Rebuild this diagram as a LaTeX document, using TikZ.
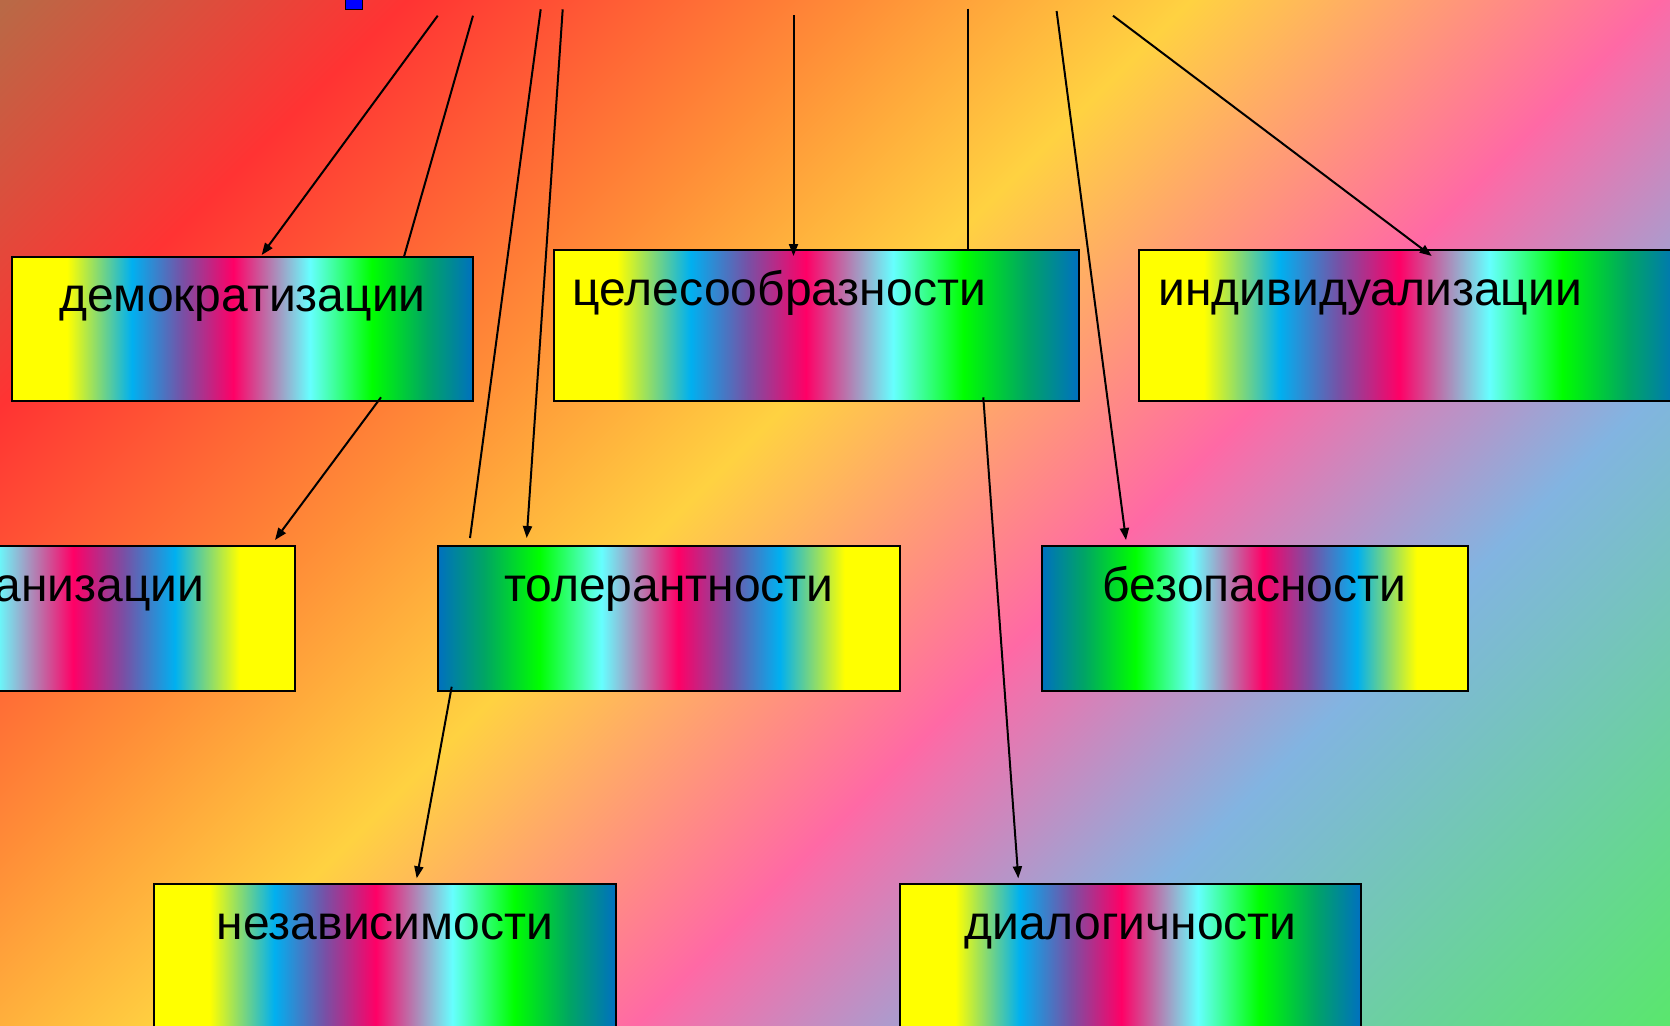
\documentclass[tikz,border=0pt]{standalone}
\usepackage{fontspec}
\setmainfont{Liberation Sans}
\usetikzlibrary{arrows.meta,calc}

% box colours
\definecolor{ryellow}{RGB}{255,255,0}
\definecolor{rcyan}{RGB}{0,176,240}
\definecolor{rpurple}{RGB}{120,80,165}
\definecolor{rmagenta}{RGB}{255,0,102}
\definecolor{raqua}{RGB}{102,255,255}
\definecolor{rgreen}{RGB}{0,255,0}
\definecolor{rteal}{RGB}{0,165,100}
\definecolor{rblue}{RGB}{0,112,192}
% backdrop colours
\definecolor{bgbrown}{RGB}{185,105,70}
\definecolor{bgred}{RGB}{255,51,51}
\definecolor{bgorange}{RGB}{255,140,55}
\definecolor{bgyellow}{RGB}{255,210,65}
\definecolor{bgpink}{RGB}{255,105,165}
\definecolor{bgblue}{RGB}{130,180,225}
\definecolor{bggreen}{RGB}{90,230,110}

\pgfdeclarehorizontalshading{rainbow}{100bp}{color(0bp)=(ryellow); color(25bp)=(ryellow);
  color(31bp)=(ryellow); color(38bp)=(rcyan); color(43.5bp)=(rpurple); color(49bp)=(rmagenta);
  color(57.3bp)=(raqua); color(64bp)=(rgreen); color(70bp)=(rteal); color(75bp)=(rblue);
  color(100bp)=(rblue)}
\pgfdeclarehorizontalshading{rainbowrev}{100bp}{color(0bp)=(rblue); color(25bp)=(rblue);
  color(30bp)=(rteal); color(36bp)=(rgreen); color(42.7bp)=(raqua); color(51bp)=(rmagenta);
  color(56.5bp)=(rpurple); color(62bp)=(rcyan); color(69bp)=(ryellow); color(75bp)=(ryellow);
  color(100bp)=(ryellow)}
\pgfdeclarehorizontalshading{backdrop}{100bp}{color(0bp)=(bgbrown); color(14.6bp)=(bgbrown);
  color(23.1bp)=(bgred); color(32.6bp)=(bgorange); color(39.8bp)=(bgyellow);
  color(49.8bp)=(bgpink); color(58bp)=(bgblue); color(71.7bp)=(bggreen); color(100bp)=(bggreen)}

\begin{document}
\begin{tikzpicture}[x=0.5pt,y=-0.5pt,
  box/.style={draw, line width=1pt, shade, inner xsep=0pt, inner ysep=0pt, outer sep=0pt,
    anchor=north west, text height=27.5pt, text depth=45pt, font=\fontsize{24}{28}\selectfont},
  link/.style={line width=1pt},
  arr/.style={line width=1pt, -{Triangle[length=6pt,width=4.5pt]}}]
\useasboundingbox (0,0) rectangle (1670,1025);
\clip (0,0) rectangle (1670,1025);
\shade[shading=backdrop, shading angle=-45] (0,0) rectangle (1670,1670);

% boxes
\node[box, shading=rainbow, minimum width=230.8pt, text depth=44.8pt] (demo) at (11.7,256.7) {демократизации};
\node[box, shading=rainbow, text width=243.5pt, inner xsep=9.5pt, align=left, text depth=47.85pt] (cel) at (553.9,250.3) {целесообразности};
\node[box, shading=rainbow, text width=251.5pt, inner xsep=10pt, align=left, text depth=47.85pt] (ind) at (1138.6,250) {индивидуализации};
\node[box, shading=rainbowrev, text width=140.5pt, inner xsep=45.25pt, align=right] (org) at (-167,546) {анизации};
\node[box, shading=rainbowrev, minimum width=231.15pt] (tol) at (437.7,546) {толерантности};
\node[box, shading=rainbowrev, minimum width=213pt] (bez) at (1041.7,546) {безопасности};
\node[box, shading=rainbow, minimum width=230.6pt] (nez) at (154.4,884) {независимости};
\node[box, shading=rainbow, minimum width=230.5pt] (dia) at (900,884) {диалогичности};

\draw[fill=blue] (345,-8) rectangle (362,9);

% lines from above
\coordinate (t1) at (437.7,15.7);
\coordinate (t2) at (473,15.7);
\coordinate (t3) at (540.7,9.3);
\coordinate (t4) at (562.7,9.3);
\coordinate (t5) at (793.5,15);
\coordinate (t6) at (967.7,8.5);
\coordinate (t7) at (1056.6,11);
\coordinate (t8) at (1113,15.7);

\draw[arr] (t1) -- ($(demo.north west)+(250,-1.7)$);
\draw[link] (t2) -- ($(demo.north west)+(392.3,0)$);
\draw[link] (t3) -- ($(tol.north west)+(32.3,-8)$);
\draw[arr] (t4) -- ($(tol.north west)+(89,-8)$);
\draw[arr] (t5) -- ($(cel.north west)+(239.6,5.7)$);
\draw[link] (t6) -- ($(cel.north west)+(413.8,0)$);
\draw[arr] (t7) -- ($(bez.north west)+(84.3,-6)$);
\draw[arr] (t8) -- ($(ind.north west)+(293.1,6)$);
% box to box
\draw[arr] ($(demo.north west)+(369.3,140.6)$) -- ($(org.north east)+(-20,-6)$);
\draw[arr] ($(tol.north west)+(14,140.7)$) -- ($(nez.north west)+(262.3,-5.7)$);
\draw[arr] ($(cel.north west)+(429.4,147)$) -- ($(dia.north west)+(118.3,-5.7)$);
\end{tikzpicture}
\end{document}
